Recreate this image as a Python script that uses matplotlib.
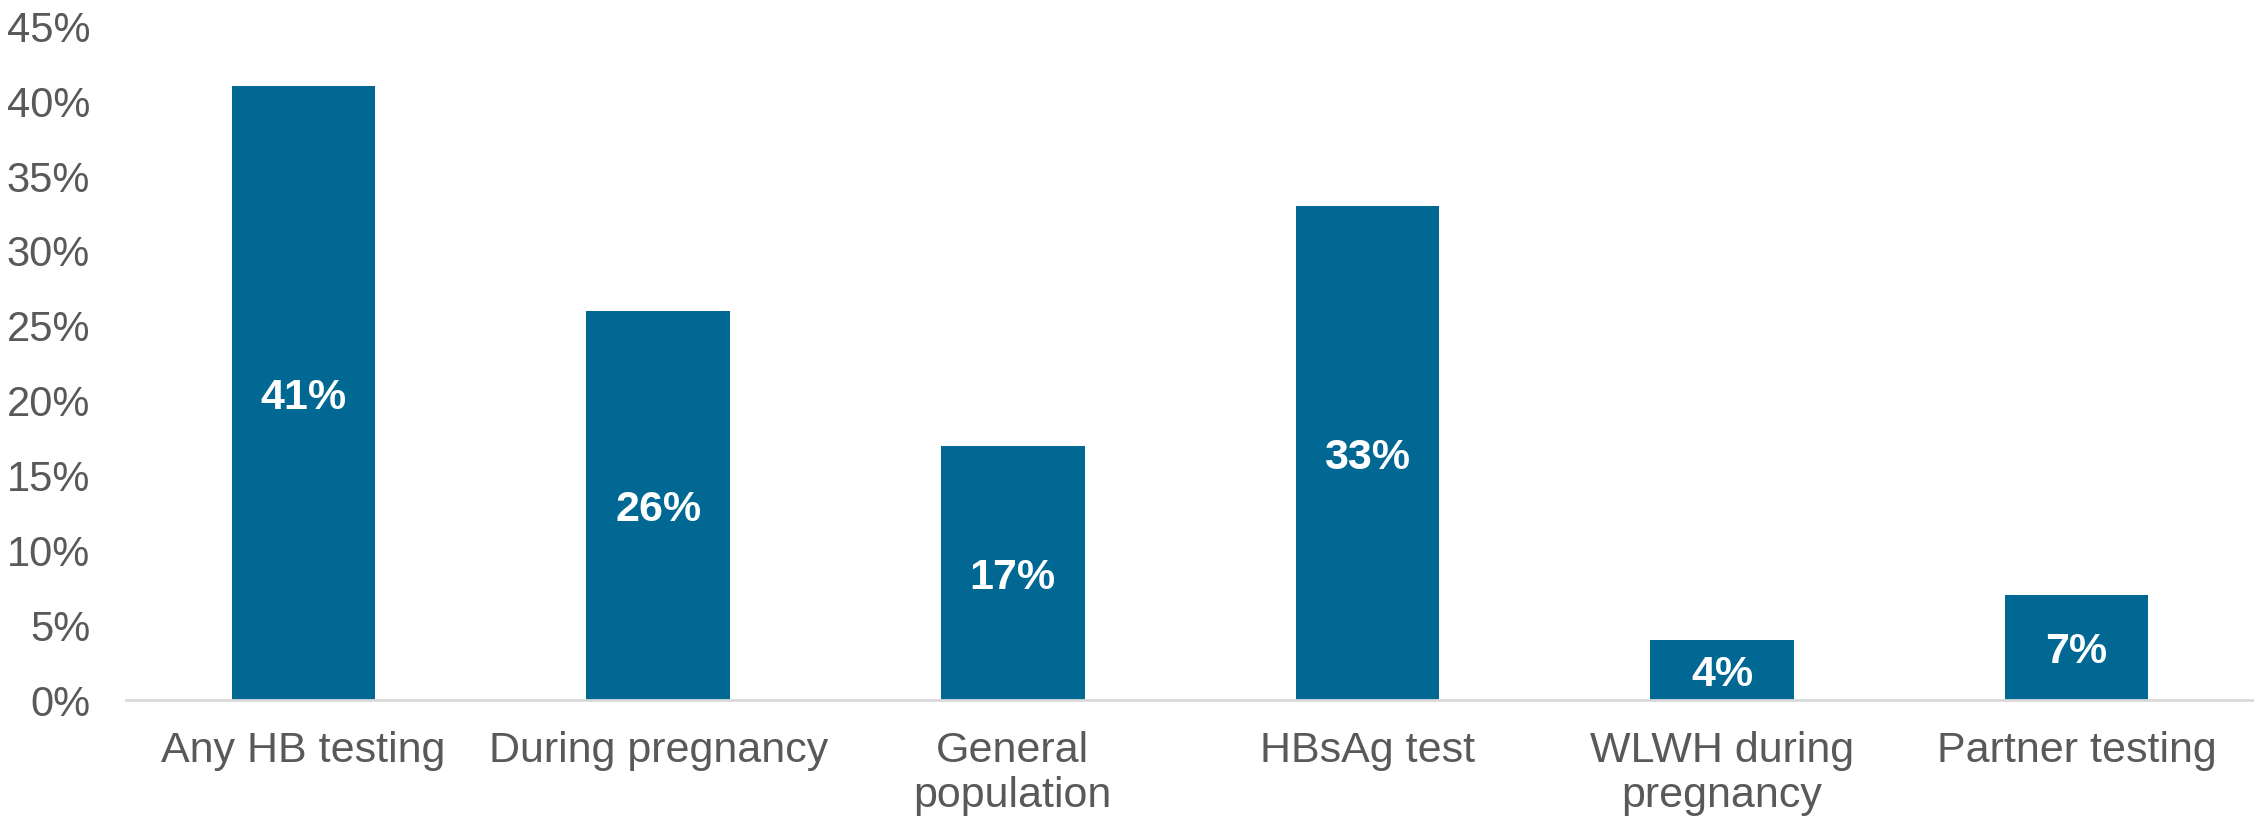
import matplotlib
matplotlib.use("Agg")
import matplotlib.pyplot as plt
from matplotlib.ticker import MultipleLocator, FuncFormatter

categories = ["Any HB testing", "During pregnancy", "General\npopulation",
              "HBsAg test", "WLWH during\npregnancy", "Partner testing"]
values = [41, 26, 17, 33, 4, 7]
value_labels = ["41%", "26%", "17%", "33%", "4%", "7%"]

plt.rcParams['font.family'] = ['Liberation Sans', 'DejaVu Sans']

fig = plt.figure(figsize=(22.54, 8.22), dpi=100)
ax = fig.add_axes([0.056, 0.148, 0.944, 0.820])

x = list(range(len(categories)))
bars = ax.bar(x, values, width=0.405, color="#006892", zorder=2)

for xi, v, lab in zip(x, values, value_labels):
    ax.text(xi, v / 2, lab, ha="center", va="center_baseline", color="white",
            fontsize=31, fontweight="bold", zorder=3)

ax.set_xlim(-0.5, len(categories) - 0.5)
ax.set_ylim(0, 45)
ax.yaxis.set_major_locator(MultipleLocator(5))
ax.yaxis.set_major_formatter(FuncFormatter(lambda v, p: f"{int(round(v))}%"))

ax.set_xticks(x)
ax.set_xticklabels(categories, fontsize=31, color="#595959", linespacing=1.15)
ax.tick_params(axis="x", length=0, pad=22)
ax.tick_params(axis="y", length=0, pad=26, labelsize=30, labelcolor="#595959")

for s in ["top", "right", "left"]:
    ax.spines[s].set_visible(False)
ax.spines["bottom"].set_color("#D9D9D9")
ax.spines["bottom"].set_linewidth(2)

fig.savefig("out.png", dpi=100)
